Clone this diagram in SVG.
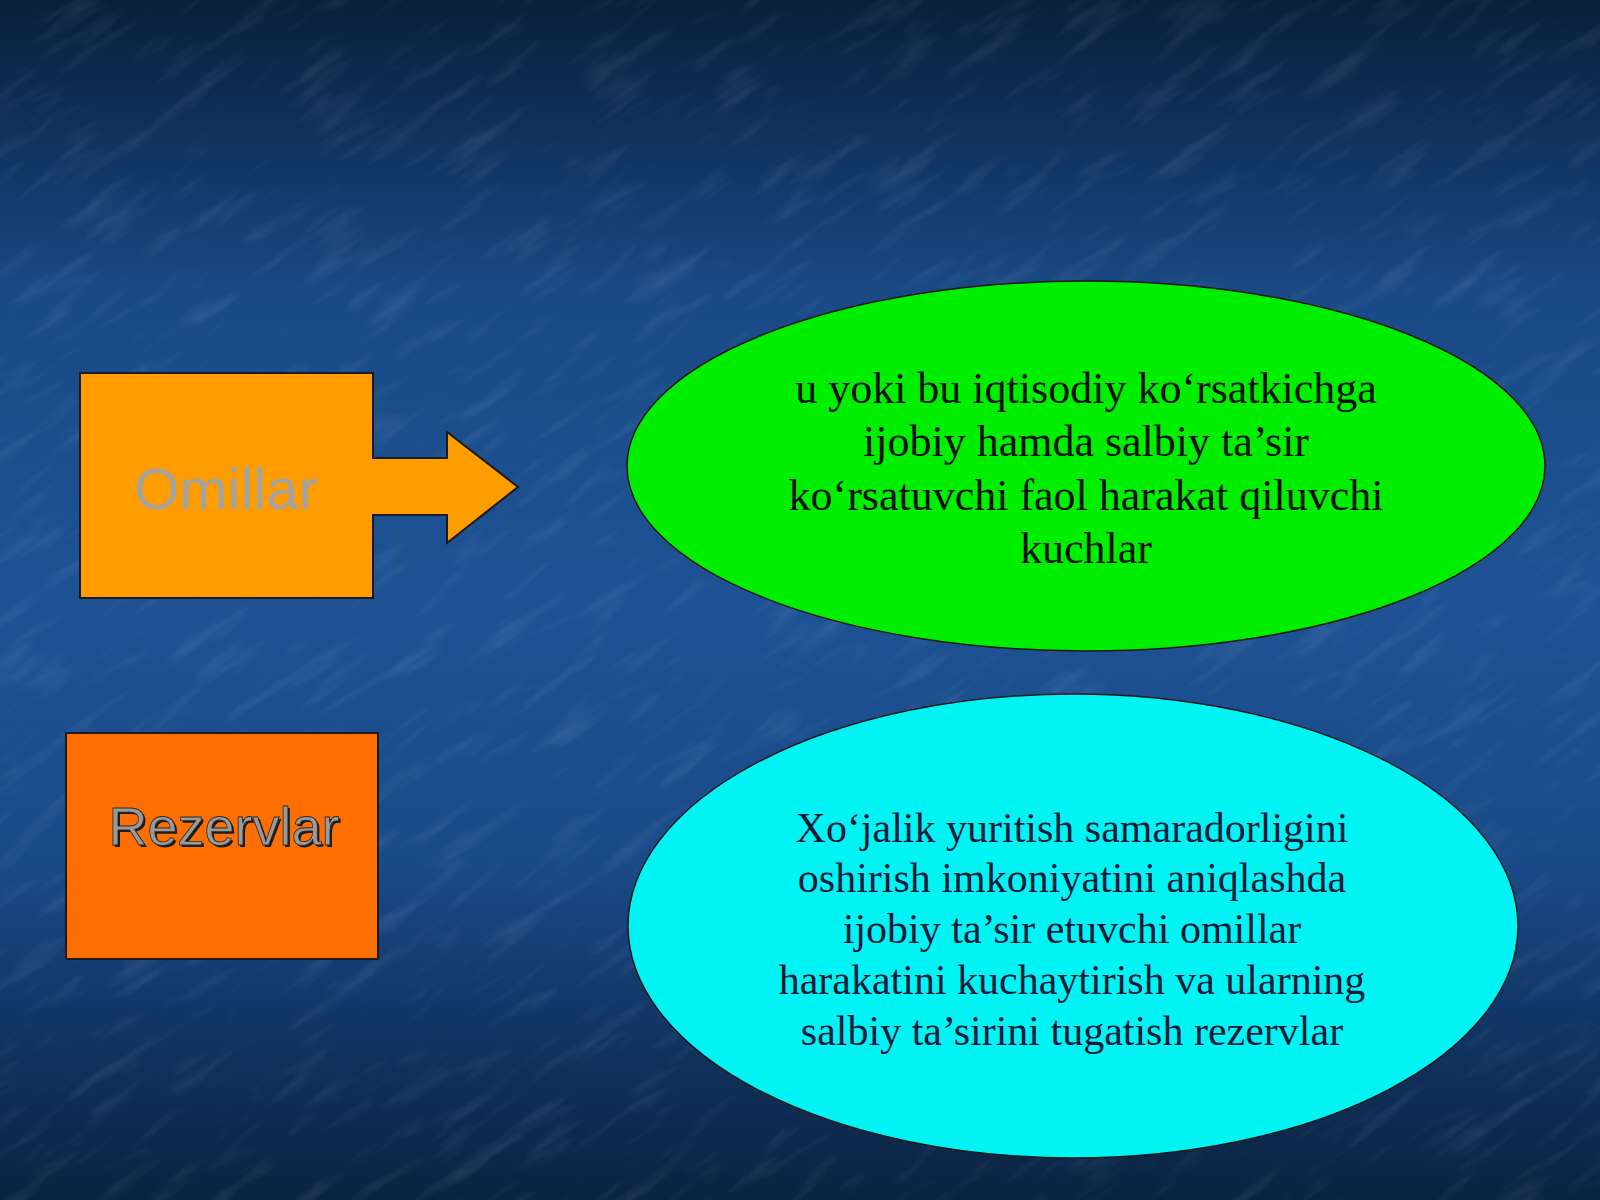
<svg xmlns="http://www.w3.org/2000/svg" width="1600" height="1200" viewBox="0 0 1600 1200">
<defs>
<linearGradient id="bg" x1="0" y1="0" x2="0" y2="1">
<stop offset="0" stop-color="#0a2038"/>
<stop offset="0.08" stop-color="#0e2c52"/>
<stop offset="0.25" stop-color="#1a4a86"/>
<stop offset="0.5" stop-color="#1e5294"/>
<stop offset="0.72" stop-color="#1a4a88"/>
<stop offset="0.86" stop-color="#113462"/>
<stop offset="1" stop-color="#0a2340"/>
</linearGradient>
<filter id="tex" x="0" y="0" width="100%" height="100%">
<feTurbulence type="fractalNoise" baseFrequency="0.012 0.06" numOctaves="3" seed="4" result="n"/>
<feColorMatrix type="matrix" values="0 0 0 0 0.7  0 0 0 0 0.8  0 0 0 0 1  0 0 0 1.4 -0.75"/>
</filter>
<filter id="shadow" x="-10%" y="-10%" width="130%" height="130%">
<feOffset dx="2" dy="2"/>
</filter>
</defs>
<style>
.box{stroke:#1a1a1a;stroke-width:2}
.ell{stroke:#1a1a1a;stroke-width:1.5}
.serif{font-family:"Liberation Serif","Times New Roman",serif;text-anchor:middle}
.sans{font-family:"Liberation Sans",Arial,sans-serif;text-anchor:middle}
</style>
<rect width="1600" height="1200" fill="url(#bg)"/>
<g transform="rotate(-35 800 600)" opacity="0.35">
<rect x="-400" y="-400" width="2400" height="2000" filter="url(#tex)"/>
</g>
<rect width="1600" height="1200" fill="url(#bg)" opacity="0.45"/>

<g id="connectors"/>

<g id="omillar">
<path class="box" d="M80,373 H373 V458 H447 V432 L518,487 L447,543 V515 H373 V598 H80 Z" fill="#ff9c00"/>
<text class="sans" x="226" y="509" font-size="58" fill="#a3a3a3">Omillar</text>
</g>

<g id="rezervlar">
<rect class="box" x="66" y="733" width="312" height="226" fill="#ff6e00"/>
<text class="sans" x="224" y="845" font-size="54" fill="#1a1a1a" filter="url(#shadow)">Rezervlar</text>
<text class="sans" x="224" y="845" font-size="54" fill="#9a9a9a" stroke="#2a2a2a" stroke-width="0.8">Rezervlar</text>
</g>

<g id="green">
<ellipse class="ell" cx="1086" cy="466" rx="459" ry="185" fill="#00ee00"/>
<text class="serif" font-size="44" fill="#051005"><tspan x="1086" y="403">u yoki bu iqtisodiy ko‘rsatkichga</tspan><tspan x="1086" y="456">ijobiy hamda salbiy ta’sir</tspan><tspan x="1086" y="510">ko‘rsatuvchi faol harakat qiluvchi</tspan><tspan x="1086" y="563">kuchlar</tspan></text>
</g>

<g id="cyan">
<ellipse class="ell" cx="1073" cy="926" rx="445" ry="232" fill="#00f4f4"/>
<text class="serif" font-size="42" fill="#0d1a38"><tspan x="1072" y="842">Xo‘jalik yuritish samaradorligini</tspan><tspan x="1072" y="892">oshirish imkoniyatini aniqlashda</tspan><tspan x="1072" y="943">ijobiy ta’sir etuvchi omillar</tspan><tspan x="1072" y="994">harakatini kuchaytirish va ularning</tspan><tspan x="1072" y="1045">salbiy ta’sirini tugatish rezervlar</tspan></text>
</g>
</svg>
